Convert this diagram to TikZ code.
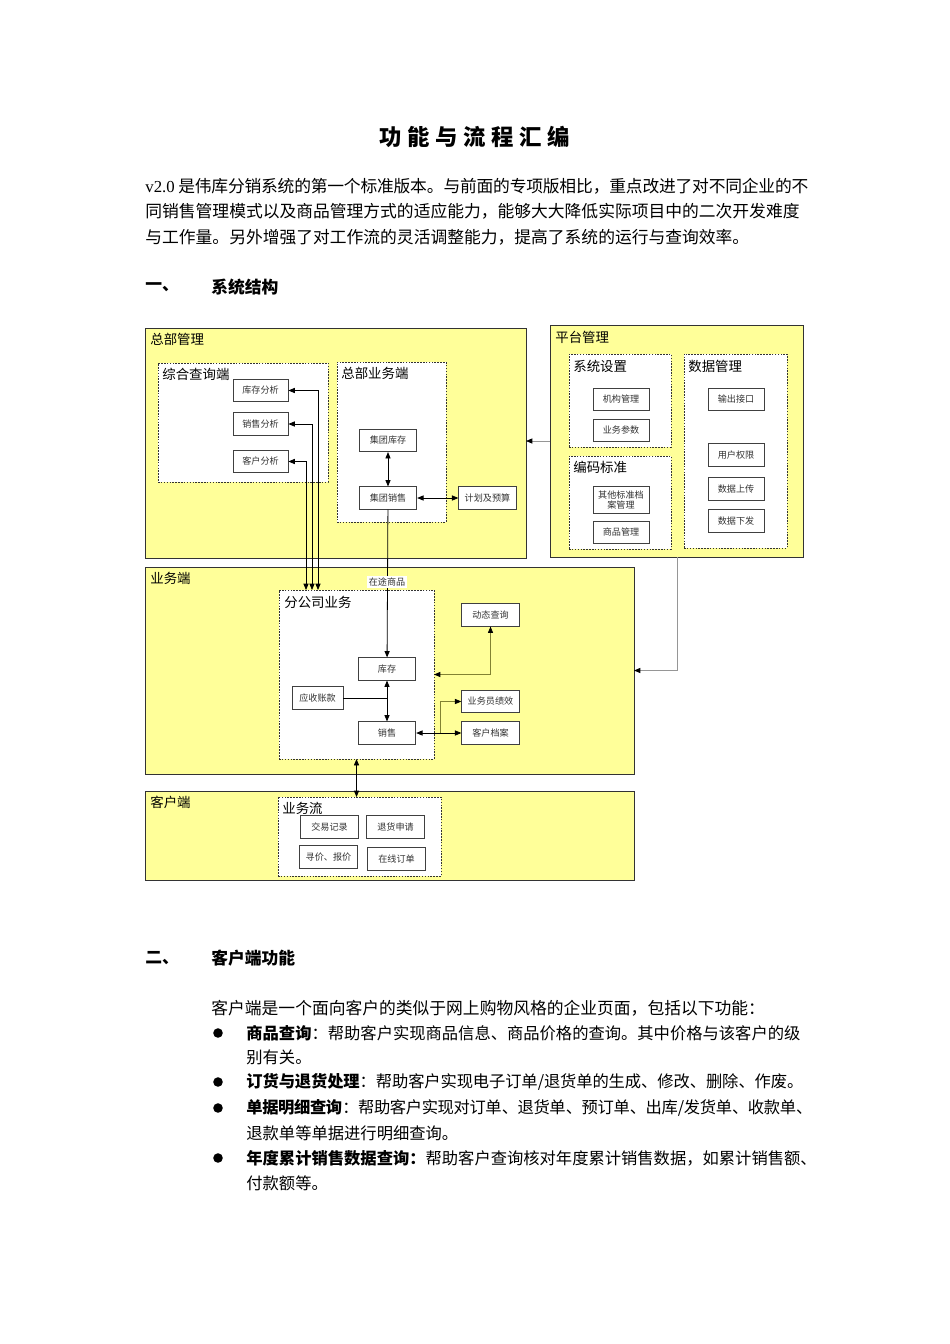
\documentclass[tikz,border=0pt]{standalone}
\usepackage{fontspec}
\setmainfont{Liberation Serif}
\newfontfamily\cjk{Noto Sans CJK SC}
\usepackage{xcolor}
\usetikzlibrary{arrows.meta,positioning,calc,fit}
\definecolor{paleyel}{RGB}{255,255,153}
\definecolor{olivln}{RGB}{130,130,50}
\definecolor{grayln}{RGB}{150,150,150}
\XeTeXlinebreaklocale "zh"
\XeTeXlinebreakskip=0pt plus 1pt minus 1pt
\newcommand{\bodyfont}{\cjk\fontsize{10.5}{13}\selectfont}
\newcommand{\listfont}{\cjk\fontsize{10.2}{13}\selectfont}

\begin{document}
\begin{tikzpicture}[x=0.626pt, y=-0.626pt, line width=0.5pt,
  >={Triangle[length=4pt,width=3.2pt]},
  grp/.style={draw=black!80, fill=paleyel, inner sep=0pt, outer sep=0pt},
  sub/.style={draw=black!80, dash pattern=on 1pt off 0.8pt, fill=white, inner sep=0pt, outer sep=0pt},
  item/.style={draw=black!75, fill=white, minimum width=36pt, minimum height=14pt, inner sep=0pt,
    align=center, text=black!80, font=\cjk\fontsize{5.7}{6.7}\selectfont},
  lbl/.style={anchor=west, inner sep=0pt, font=\cjk\fontsize{8.4}{9}\selectfont},
  txt/.style={anchor=west, inner sep=0pt, font=\bodyfont},
  jline/.style={txt, text width=#1, align=justify},
  ltxt/.style={txt, font=\listfont},
  jlist/.style={jline=#1, font=\listfont},
  bul/.style={circle, fill=black, inner sep=0pt, minimum size=6pt}]
  \useasboundingbox (0,0) rectangle (950,1344);
  % heading and intro
  \node[font=\cjk\bfseries\fontsize{14}{16}\selectfont] (title) at (475,137)
    {功\hspace{3.5pt}能\hspace{3.5pt}与\hspace{3.5pt}流\hspace{3.5pt}程\hspace{3.5pt}汇\hspace{3.5pt}编};
  \node[jline=415pt] (intro1) at (145,186) {\parindent=0pt\parfillskip=0pt {\rmfamily v2.0} 是伟库分销系统的第一个标准版本。与前面的专项版相比，重点改进了对不同企业的不};
  \node[jline=415pt] (intro2) at (145,211) {\parindent=0pt\parfillskip=0pt 同销售管理模式以及商品管理方式的适应能力，能够大大降低实际项目中的二次开发难度};
  \node[txt] (intro3) at (145,237) {与工作量。另外增强了对工作流的灵活调整能力，提高了系统的运行与查询效率。};
  \node[txt, font=\bodyfont\bfseries] (sec1no) at (145,287) {一、};
  \node[txt, font=\bodyfont\bfseries] (sec1) at (211,287) {系统结构};

  % 总部管理
  \node[grp, fit={(145,328) (526,558)}] (hq) {};
  \node[lbl] (hqlbl) at (150,339) {总部管理};
  \node[sub, fit={(158,363) (328,482)}] (query) {};
  \node[lbl] (querylbl) at (162,374) {综合查询端};
  \node[item, minimum width=34.4pt] (kcfx) at (260.5,390.5) {库存分析};
  \node[item, minimum width=34.4pt] (xsfx) at (260.5,424) {销售分析};
  \node[item, minimum width=34.4pt] (khfx) at (260.5,461.5) {客户分析};
  \node[sub, fit={(337,362) (446,522)}] (hqbiz) {};
  \node[lbl] (hqbizlbl) at (341,373) {总部业务端};
  \node[item] (jtkc) at (388,440.5) {集团库存};
  \node[item] (jtxs) at (388,498) {集团销售};
  \node[item] (jhys) at (487.5,498) {计划及预算};

  % 平台管理
  \node[grp, fit={(550,325) (803,557)}] (plat) {};
  \node[lbl] (platlbl) at (555,337) {平台管理};
  \node[sub, fit={(569,354) (671,447)}] (sysset) {};
  \node[lbl] (syssetlbl) at (573,366) {系统设置};
  \node[item, minimum width=35pt] (jggl) at (621,399.5) {机构管理};
  \node[item, minimum width=35pt] (ywcs) at (621,430.5) {业务参数};
  \node[sub, fit={(569,456) (671,549)}] (coding) {};
  \node[lbl] (codinglbl) at (573,467) {编码标准};
  \node[item, minimum width=35pt, minimum height=17pt] (qtda) at (621,500) {其他标准档\\案管理};
  \node[item, minimum width=35pt] (spgl) at (621,532.5) {商品管理};
  \node[sub, fit={(684,354) (787,548)}] (datamg) {};
  \node[lbl] (datamglbl) at (688,366) {数据管理};
  \node[item, minimum width=35pt] (scjk) at (736,399.5) {输出接口};
  \node[item, minimum width=35pt] (yhqx) at (736,455) {用户权限};
  \node[item, minimum width=35pt] (sjsc) at (736,489) {数据上传};
  \node[item, minimum width=35pt] (sjxf) at (736,521) {数据下发};

  % 业务端
  \node[grp, fit={(145,567) (634,774)}] (biz) {};
  \node[lbl] (bizlbl) at (150,578) {业务端};
  \node[sub, fit={(279,590) (434,759)}] (branch) {};
  \node[lbl] (branchlbl) at (284,602) {分公司业务};
  \node[item] (kc) at (387,669) {库存};
  \node[item, minimum width=32pt] (yszk) at (317.5,698) {应收账款};
  \node[item] (xs) at (387,733) {销售};
  \node[item] (dtcx) at (490.5,615) {动态查询};
  \node[item] (ywyjx) at (490.5,701.5) {业务员绩效};
  \node[item] (khda) at (490.5,733) {客户档案};

  % 客户端
  \node[grp, fit={(145,791) (634,880)}] (cust) {};
  \node[lbl] (custlbl) at (150,802) {客户端};
  \node[sub, fit={(278,797) (441,876)}] (flow) {};
  \node[lbl] (flowlbl) at (282,808) {业务流};
  \node[item] (jyjl) at (329.5,827) {交易记录};
  \node[item] (thsq) at (395.5,827) {退货申请};
  \node[item] (xjbj) at (328.5,857) {寻价、报价};
  \node[item] (zxdd) at (396.5,859) {在线订单};

  % edges
  \coordinate (platout) at (677,557);
  \coordinate (fork) at (440,733);
  \draw[-{Triangle[length=4pt,width=3.2pt,black]}, grayln] (plat.west) -- (plat.west -| hq.east);
  \draw[-{Triangle[length=4pt,width=3.2pt,black]}, grayln] (platout) |- (biz.east);
  \draw[<->] (jtkc) -- (jtxs);
  \draw[<->] (jtxs) -- (jhys);
  \draw[->] (jtxs) -- (kc);
  \node[fill=white, inner sep=1pt, text=black!80, font=\cjk\fontsize{5.7}{6.7}\selectfont] (ztsp) at (387,582) {在途商品};
  \draw[<->] (kcfx.east) -| ($(branch.north west)+(39,0)$);
  \draw[<->] (xsfx.east) -| ($(branch.north west)+(33,0)$);
  \draw[<->] (khfx.east) -| ($(branch.north west)+(27,0)$);
  \draw[<->] (kc) -- (xs);
  \draw (yszk.east) -- (yszk.east -| kc.south);
  \draw[olivln, {Triangle[length=4pt,width=3.2pt,black]}-{Triangle[length=4pt,width=3.2pt,black]}] (branch.east) -| (dtcx.south);
  \draw[<->] (xs) -- (khda);
  \draw[olivln, -{Triangle[length=4pt,width=3.2pt,black]}] (fork) |- (ywyjx.west);
  \draw[<->] (branch.south) -- (branch.south |- flow.north);

  % 客户端功能
  \node[txt, font=\bodyfont\bfseries] (sec2no) at (145,958) {二、};
  \node[txt, font=\bodyfont\bfseries] (sec2) at (211,958) {客户端功能};
  \node[txt] (custintro) at (211,1008) {客户端是一个面向客户的类似于网上购物风格的企业页面，包括以下功能：};
  \node[bul] (b1) at (218,1033) {};
  \node[bul] (b2) at (218,1082) {};
  \node[bul] (b3) at (218,1108) {};
  \node[bul] (b4) at (218,1158) {};
  \node[jlist=350.6pt] (f1a) at (246,1033) {\parindent=0pt\parfillskip=0pt \textbf{商品查询}：帮助客户实现商品信息、商品价格的查询。其中价格与该客户的级};
  \node[ltxt] (f1b) at (246,1057) {别有关。};
  \node[jlist=348.7pt] (f2) at (246,1082) {\parindent=0pt\parfillskip=0pt \textbf{订货与退货处理}：帮助客户实现电子订单/退货单的生成、修改、删除、作废。};
  \node[jlist=354.3pt] (f3a) at (246,1108) {\parindent=0pt\parfillskip=0pt \textbf{单据明细查询}：帮助客户实现对订单、退货单、预订单、出库/发货单、收款单、};
  \node[ltxt] (f3b) at (246,1133) {退款单等单据进行明细查询。};
  \node[jlist=359.3pt] (f4a) at (246,1158) {\parindent=0pt\parfillskip=0pt \textbf{年度累计销售数据查询：}帮助客户查询核对年度累计销售数据，如累计销售额、};
  \node[ltxt] (f4b) at (246,1183) {付款额等。};
\end{tikzpicture}
\end{document}
